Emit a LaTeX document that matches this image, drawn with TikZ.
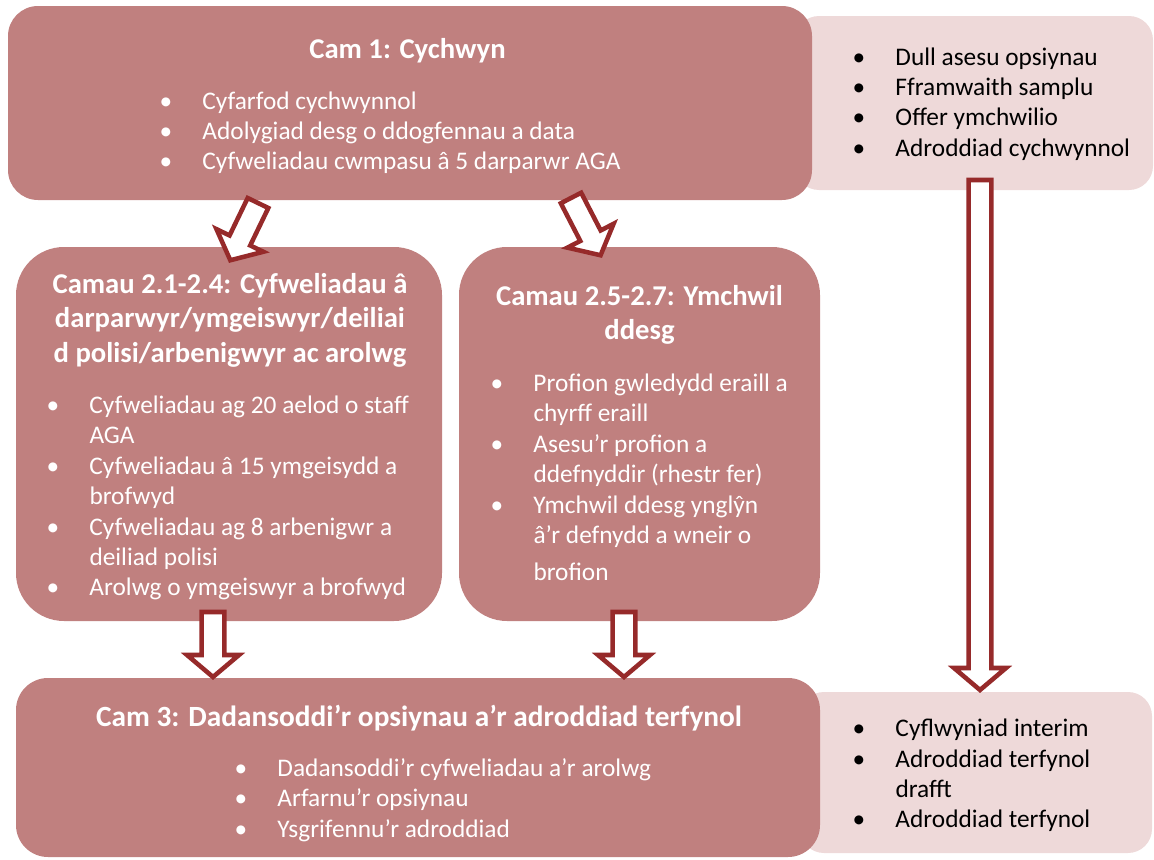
\documentclass[tikz,border=0pt]{standalone}
\usepackage{fontspec}
\setmainfont{Carlito}
\usepackage{xcolor}
\usepackage{tikz}
\usetikzlibrary{calc}
\definecolor{stagefill}{RGB}{192,128,127}
\definecolor{outfill}{RGB}{238,217,217}
\definecolor{arrowred}{RGB}{150,42,42}
\tikzset{every picture/.style={line width=0.75pt}}
\tikzset{
  stagebox/.style={draw=none, fill=stagefill, inner sep=0pt},
  outbox/.style={draw=none, fill=outfill, inner sep=0pt, rounded corners=18pt},
  titletext/.style={anchor=base, inner sep=0pt, text=white, font=\fontsize{21.5}{25.9}\selectfont\bfseries},
  listtext/.style={anchor=base west, inner sep=0pt, font=\fontsize{19}{22.8}\selectfont},
  hollow/.style={draw=arrowred, line width=3.4pt, fill=white, line join=miter},
}
% block arrow with a white body, from #1 to #2
\newcommand{\hollowarrow}[2]{%
  \draw [hollow] let \p1=(#1), \p2=(#2), \n1={atan2(\y2-\y1,\x2-\x1)}, \n2={veclen(\x2-\x1,\y2-\y1)} in
    [shift={(\x1,\y1)}, rotate=\n1]
    (0pt,-8.6pt) -- ({\n2*1pt-16.5pt},-8.6pt) -- ({\n2*1pt-16.5pt},-19.5pt) -- ({\n2*1pt},0pt)
    -- ({\n2*1pt-16.5pt},19.5pt) -- ({\n2*1pt-16.5pt},8.6pt) -- (0pt,8.6pt) -- cycle ;
}
\newcommand{\itemlist}[1]{\begin{tabular}[t]{@{}p{32.25pt}@{}l@{}}#1\end{tabular}}

\begin{document}
\begin{tikzpicture}[x=0.75pt,y=-0.75pt]
\useasboundingbox (0,0) rectangle (1154,860);

%Shape: output boxes
\node (out1) [outbox, minimum width=268.5pt, minimum height=130.5pt] at (974,103) {};
\node (out2) [outbox, minimum width=264pt, minimum height=120.75pt] at (976,772.5) {};
%Shape: stage boxes
\node (cam1) [stagebox, minimum width=603pt, minimum height=145.5pt, rounded corners=22.5pt] at (410,103) {};
\node (cam2a) [stagebox, minimum width=319.5pt, minimum height=280.5pt, rounded corners=36pt] at (229,434) {};
\node (cam2b) [stagebox, minimum width=270.75pt, minimum height=280.5pt, rounded corners=36pt] at (639.5,434) {};
\node (cam3) [stagebox, minimum width=603pt, minimum height=134.25pt, rounded corners=24pt] at (418,767.5) {};

%Block arrows
\coordinate (d1a) at (258,203);
\coordinate (d1b) at (230.3,260.3);
\coordinate (d2a) at (571,198);
\coordinate (d2b) at (600.6,255.3);
\coordinate (v1a) at (213,612);
\coordinate (v1b) at (213,677);
\coordinate (v2a) at (624,612);
\coordinate (v2b) at (624,677);
\coordinate (v3a) at (980,180);
\coordinate (v3b) at (980,690);
\hollowarrow{d1a}{d1b}
\hollowarrow{d2a}{d2b}
\hollowarrow{v1a}{v1b}
\hollowarrow{v2a}{v2b}
\hollowarrow{v3a}{v3b}

% Text Node
\node (tcam1) [titletext] at (407.5,58) {Cam 1: Cychwyn};
% Text Node
\node (lcam1) [listtext, text=white] at (159,109) {\itemlist{%
• & Cyfarfod cychwynnol\\
• & Adolygiad desg o ddogfennau a data\\
• & Cyfweliadau cwmpasu â 5 darparwr AGA}};
% Text Node
\node (lout1) [listtext] at (852,65) {\itemlist{%
• & Dull asesu opsiynau\\
• & Fframwaith samplu\\
• & Offer ymchwilio\\
• & Adroddiad cychwynnol}};
% Text Node
\node (tcam2a) [titletext] at (230,293) {\begin{tabular}[t]{@{}c@{}}Camau 2.1-2.4: Cyfweliadau â\\darparwyr/ymgeiswyr/deiliai\\d polisi/arbenigwyr ac arolwg\end{tabular}};
% Text Node
\node (lcam2a) [listtext, text=white] at (46,413.5) {\itemlist{%
• & Cyfweliadau ag 20 aelod o staff\\
  & AGA\\
• & Cyfweliadau â 15 ymgeisydd a\\
  & brofwyd\\
• & Cyfweliadau ag 8 arbenigwr a\\
  & deiliad polisi\\
• & Arolwg o ymgeiswyr a brofwyd}};
% Text Node
\node (tcam2b) [titletext] at (639.5,305) {\begin{tabular}[t]{@{}c@{}}Camau 2.5-2.7: Ymchwil\\ddesg\end{tabular}};
% Text Node
\node (lcam2b) [listtext, text=white] at (490,391.5) {\itemlist{%
• & Profion gwledydd eraill a\\
  & chyrff eraill\\
• & Asesu’r profion a\\
  & ddefnyddir (rhestr fer)\\
• & Ymchwil ddesg ynglŷn\\
  & â’r defnydd a wneir o\\[4.9pt]
  & brofion}};
% Text Node
\node (tcam3) [titletext, font=\fontsize{22}{25.9}\selectfont\bfseries] at (419,726) {Cam 3: Dadansoddi’r opsiynau a’r adroddiad terfynol};
% Text Node
\node (lcam3) [listtext, text=white] at (234,776.5) {\itemlist{%
• & Dadansoddi’r cyfweliadau a’r arolwg\\
• & Arfarnu’r opsiynau\\
• & Ysgrifennu’r adroddiad}};
% Text Node
\node (lout2) [listtext] at (852,736.7) {\itemlist{%
• & Cyflwyniad interim\\
• & Adroddiad terfynol\\
  & drafft\\
• & Adroddiad terfynol}};

\end{tikzpicture}
\end{document}
